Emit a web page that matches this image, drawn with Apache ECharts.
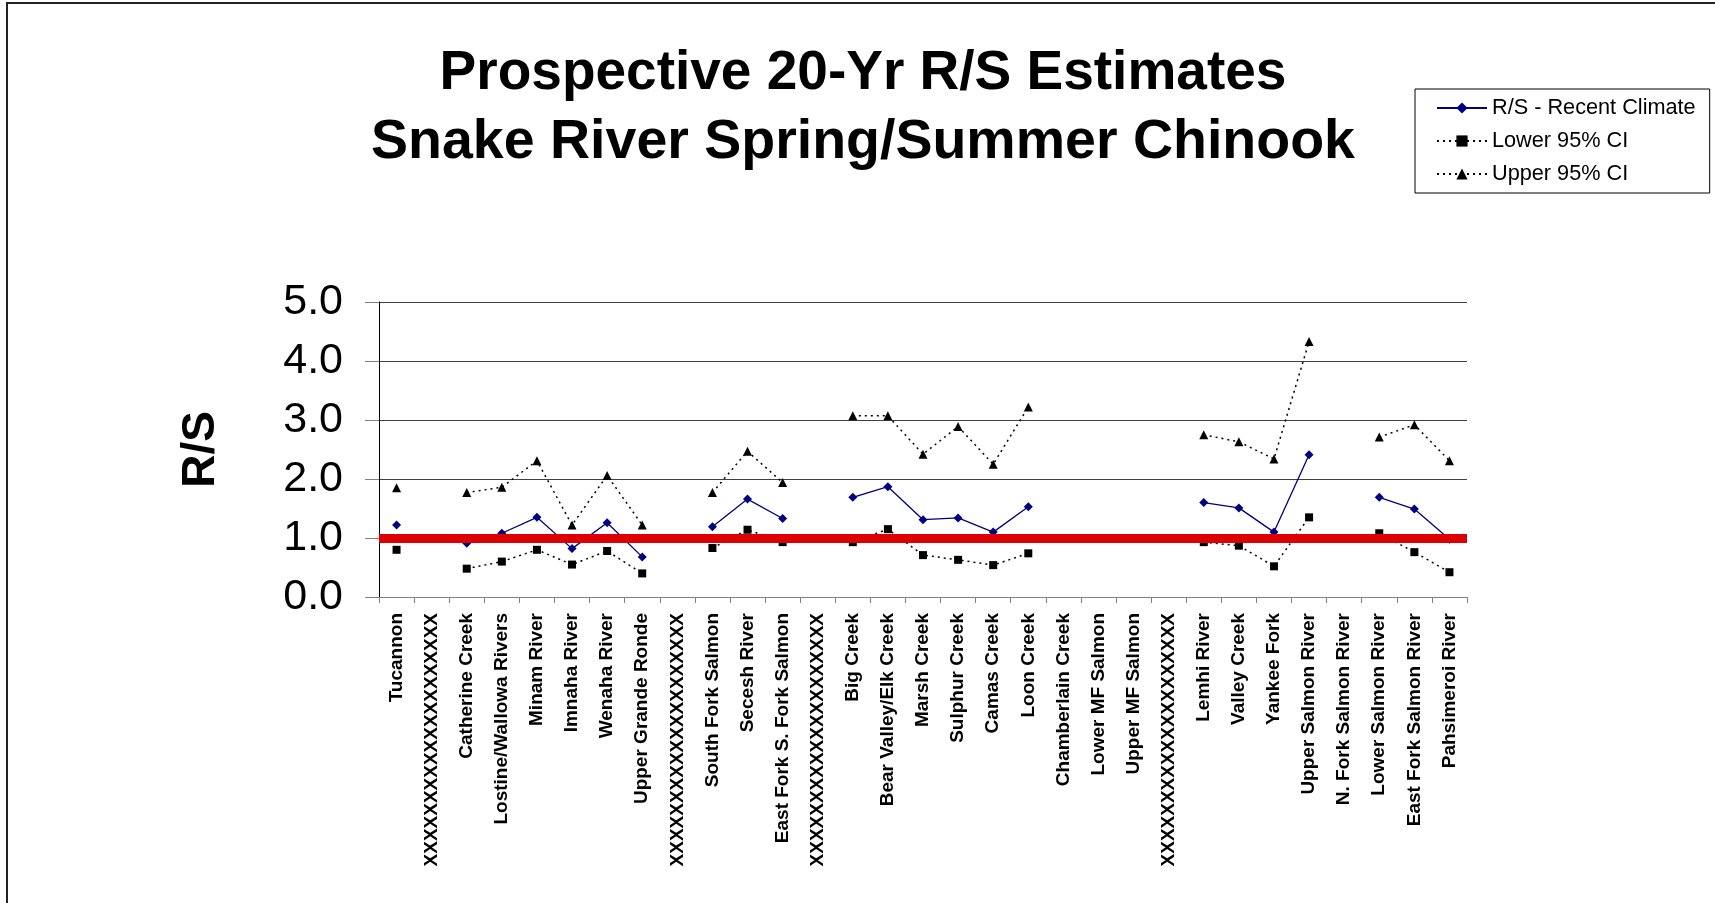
<!DOCTYPE html>
<html>
<head>
<meta charset="utf-8">
<script src="https://cdn.jsdelivr.net/npm/echarts@6/dist/echarts.min.js"></script>
<style>
  html, body { margin: 0; padding: 0; background: #ffffff; }
  #chart { width: 1715px; height: 903px; }
</style>
</head>
<body>
<div id="chart"></div>
<script>
const TITLE_LINES = ["Prospective 20-Yr R/S Estimates", "Snake River Spring/Summer Chinook"];
const XX = "XXXXXXXXXXXXXXXXXXXX";
const categories = [
  "Tucannon", XX, "Catherine Creek", "Lostine/Wallowa Rivers", "Minam River",
  "Imnaha River", "Wenaha River", "Upper Grande Ronde", XX, "South Fork Salmon",
  "Secesh River", "East Fork S. Fork Salmon", XX, "Big Creek", "Bear Valley/Elk Creek",
  "Marsh Creek", "Sulphur Creek", "Camas Creek", "Loon Creek", "Chamberlain Creek",
  "Lower MF Salmon", "Upper MF Salmon", XX, "Lemhi River", "Valley Creek",
  "Yankee Fork", "Upper Salmon River", "N. Fork Salmon River", "Lower Salmon River",
  "East Fork Salmon River", "Pahsimeroi River"
];
const rsRecent = [
  1.22, null, 0.91, 1.08, 1.35, 0.82, 1.26, 0.68, null, 1.19,
  1.66, 1.33, null, 1.69, 1.87, 1.31, 1.34, 1.10, 1.53, null,
  null, null, null, 1.60, 1.51, 1.10, 2.41, null, 1.69, 1.49, 0.98
];
const lower95 = [
  0.80, null, 0.48, 0.60, 0.80, 0.55, 0.78, 0.40, null, 0.83,
  1.14, 0.93, null, 0.93, 1.15, 0.71, 0.63, 0.54, 0.74, null,
  null, null, null, 0.93, 0.87, 0.52, 1.35, null, 1.08, 0.76, 0.42
];
const upper95 = [
  1.85, null, 1.77, 1.86, 2.31, 1.22, 2.06, 1.22, null, 1.77,
  2.47, 1.94, null, 3.07, 3.07, 2.42, 2.89, 2.25, 3.22, null,
  null, null, null, 2.75, 2.63, 2.34, 4.33, null, 2.71, 2.92, 2.31
];
const refLevel = [1.0];
const yTicks = { min: 0, max: 5, interval: 1 };
const seriesNames = ["R/S - Recent Climate", "Lower 95% CI", "Upper 95% CI"];

const FONT = "'Liberation Sans', Arial, sans-serif";
const chart = echarts.init(document.getElementById('chart'), null, { renderer: 'canvas' });

const option = {
  backgroundColor: '#ffffff',
  animation: false,
  graphic: [
    { type: 'rect', shape: { x: 7, y: 3, width: 1800, height: 1000 },
      style: { fill: 'none', stroke: '#222', lineWidth: 2 }, silent: true, z: 0 },
    { type: 'text', x: 863, y: 74,
      style: { text: TITLE_LINES[0], font: 'bold 55px ' + FONT, fill: '#000', textAlign: 'center', textVerticalAlign: 'middle' } },
    { type: 'text', x: 863, y: 143,
      style: { text: TITLE_LINES[1], font: 'bold 55.5px ' + FONT, fill: '#000', textAlign: 'center', textVerticalAlign: 'middle' } }
  ],
  legend: {
    data: seriesNames,
    orient: 'vertical',
    left: 1415, top: 89,
    padding: [8, 14, 8, 21],
    itemGap: 11,
    itemWidth: 50,
    itemHeight: 14,
    borderColor: '#000',
    borderWidth: 1,
    borderRadius: 0,
    textStyle: { fontFamily: FONT, fontSize: 21.7, color: '#000', lineHeight: 21 }
  },
  grid: { left: 379, top: 302, width: 1088, height: 295, containLabel: false },
  xAxis: {
    type: 'category',
    data: categories,
    boundaryGap: true,
    axisLine: { show: true, lineStyle: { color: '#808080', width: 1 } },
    axisTick: { show: true, alignWithLabel: false, length: 6, lineStyle: { color: '#808080' } },
    axisLabel: {
      interval: 0, rotate: 90, margin: 16,
      fontFamily: FONT, fontSize: 19, fontWeight: 'bold', color: '#000'
    },
    splitLine: { show: false }
  },
  yAxis: {
    type: 'value',
    min: yTicks.min, max: yTicks.max, interval: yTicks.interval,
    name: 'R/S',
    nameLocation: 'middle',
    nameRotate: 90,
    nameGap: 155,
    nameTextStyle: { fontFamily: FONT, fontSize: 46, fontWeight: 'bold', color: '#000' },
    axisLine: { show: true, lineStyle: { color: '#000', width: 1 } },
    axisTick: { show: true, length: 14, lineStyle: { color: '#808080' } },
    axisLabel: {
      margin: 36, fontFamily: FONT, fontSize: 43, color: '#000',
      formatter: v => v.toFixed(1)
    },
    splitLine: { show: true, lineStyle: { color: '#404040', width: 1 } }
  },
  series: [
    {
      name: seriesNames[0], type: 'line', data: rsRecent, z: 4,
      symbol: 'diamond', symbolSize: 9, connectNulls: false,
      itemStyle: { color: '#000080' },
      lineStyle: { color: '#000080', width: 1.3, type: 'solid' }
    },
    {
      name: seriesNames[1], type: 'line', data: lower95, z: 3,
      symbol: 'rect', symbolSize: 8, connectNulls: false,
      itemStyle: { color: '#000' },
      lineStyle: { color: '#000', width: 1.5, type: [2, 4] }
    },
    {
      name: seriesNames[2], type: 'line', data: upper95, z: 3,
      symbol: 'triangle', symbolSize: 9, connectNulls: false,
      itemStyle: { color: '#000' },
      lineStyle: { color: '#000', width: 1.5, type: [2, 4] }
    },
    {
      name: 'ref', type: 'line', data: [], z: 6,
      markLine: {
        silent: true, symbol: 'none', animation: false,
        label: { show: false },
        lineStyle: { color: '#DD0000', width: 9, type: 'solid' },
        data: refLevel.map(v => ({ yAxis: v }))
      }
    }
  ]
};
chart.setOption(option);
</script>
</body>
</html>
